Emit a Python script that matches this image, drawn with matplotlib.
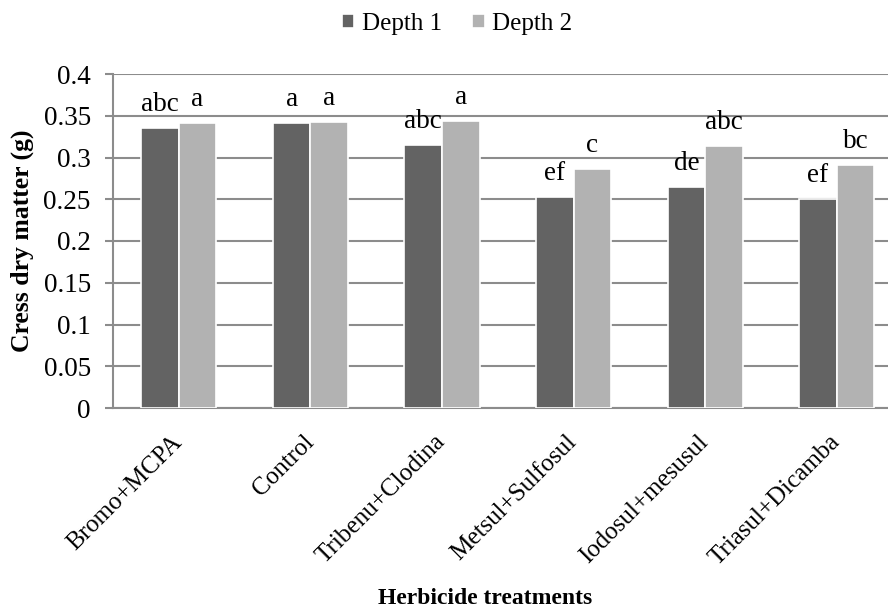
import numpy as np
import matplotlib.pyplot as plt

plt.rcParams['font.family'] = ['Liberation Serif', 'DejaVu Serif']

treatments = ['Bromo+MCPA', 'Control', 'Tribenu+Clodina', 'Metsul+Sulfosul',
              'Iodosul+mesusul', 'Triasul+Dicamba']
depth1 = [0.335, 0.341, 0.315, 0.253, 0.265, 0.250]
depth2 = [0.341, 0.342, 0.344, 0.286, 0.314, 0.291]
letters1 = ['abc', 'a', 'abc', 'ef', 'de', 'ef']
letters2 = ['a', 'a', 'a', 'c', 'abc', 'bc']
yticks = [0, 0.05, 0.1, 0.15, 0.2, 0.25, 0.3, 0.35, 0.4]
ytick_labels = ['0', '0.05', '0.1', '0.15', '0.2', '0.25', '0.3', '0.35', '0.4']

fig = plt.figure(figsize=(8.88, 6.12), dpi=100)
ax = fig.add_axes([113 / 888, 1 - 408 / 612, 1 - 113 / 888, (408 - 74) / 612])

x = np.arange(len(treatments))
w = 0.285
grid_c = '#8c8c8c'

b1 = ax.bar(x - w / 2, depth1, w, color='#636363', edgecolor='white', linewidth=1.2,
            label='Depth 1', zorder=3)
b2 = ax.bar(x + w / 2, depth2, w, color='#b2b2b2', edgecolor='white', linewidth=1.2,
            label='Depth 2', zorder=3)

# significance letters above each bar
for bars, labs in ((b1, letters1), (b2, letters2)):
    for bar, lab in zip(bars, labs):
        ax.annotate(lab, (bar.get_x() + bar.get_width() / 2, bar.get_height()),
                    xytext=(0, 17), textcoords='offset points',
                    ha='center', va='center', fontsize=19.5, zorder=4)

ax.set_xlim(-0.5, -0.5 + 775 / 131.6)
ax.set_ylim(0, 0.4)
ax.set_yticks(yticks)
ax.set_yticklabels(ytick_labels, fontsize=19.5)
ax.yaxis.grid(True, color=grid_c, linewidth=1.5, zorder=0)
ax.set_axisbelow(True)

for s in ['top', 'right']:
    ax.spines[s].set_visible(False)
for s in ['left', 'bottom']:
    ax.spines[s].set_color(grid_c)
    ax.spines[s].set_linewidth(1.5)

ax.tick_params(axis='y', length=6, width=1.5, color=grid_c, pad=10)
ax.tick_params(axis='x', length=0, pad=22)

ax.set_xticks(x)
ax.set_xticklabels(treatments, rotation=45, ha='right', va='center',
                   rotation_mode='anchor', fontsize=18)

ax.set_ylabel('Cress dry matter (g)', fontsize=18.5, fontweight='bold')
ax.yaxis.set_label_coords(-79 / 775, 0.5)
fig.text(485 / 888, 1 - 598 / 612, 'Herbicide treatments', ha='center', va='center',
         fontsize=17, fontweight='bold')

fig.legend(handles=[b1, b2], loc='center', bbox_to_anchor=(457 / 888, 1 - 24 / 612),
           ncol=2, frameon=False, fontsize=18, handlelength=0.5, handleheight=0.5,
           handletextpad=0.3, columnspacing=1.2)

fig.savefig('out.png', dpi=100)
